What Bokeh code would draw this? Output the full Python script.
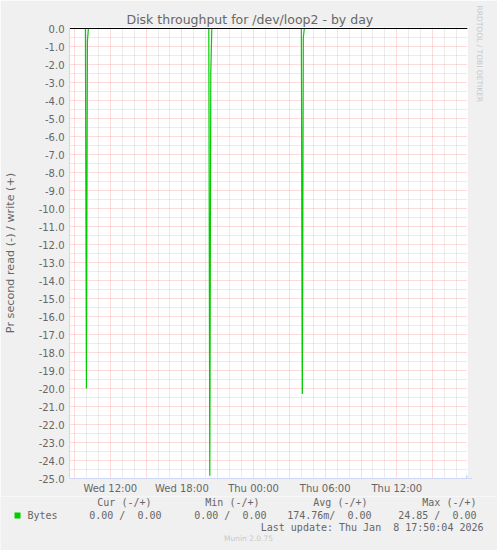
import pandas as pd
from bokeh.plotting import figure
from bokeh.layouts import column, row
from bokeh.models import (Range1d, FixedTicker, NumeralTickFormatter, DatetimeTickFormatter,
                          Title, Arrow, NormalHead)
from bokeh.core.properties import value
from bokeh.embed import file_html
from bokeh.resources import INLINE

title_text = "Disk throughput for /dev/loop2 - by day"
y_label_text = "Pr second read (-) / write (+)"
side_text = "RRDTOOL / TOBI OETIKER"
footer_text = "Munin 2.0.75"
last_update = "Last update: Thu Jan  8 17:50:04 2026"

# read bytes/s (drawn negative), only the samples where the value changes
read_times = ["2026-01-07 08:35", "2026-01-07 09:55", "2026-01-07 10:00", "2026-01-07 10:05",
              "2026-01-07 10:10", "2026-01-07 20:15", "2026-01-07 20:20", "2026-01-07 20:25",
              "2026-01-07 20:30", "2026-01-08 04:00", "2026-01-08 04:05", "2026-01-08 04:10",
              "2026-01-08 04:15", "2026-01-08 17:55"]
read_values = [0.0, 0.0, -20.0, -0.7, 0.0, 0.0, -24.85, -2.5, 0.0, 0.0, -20.3, -0.5, 0.0, 0.0]

x_start = "2026-01-07 08:35"
x_end = "2026-01-08 17:55"
x_tick_times = ["2026-01-07 12:00", "2026-01-07 18:00", "2026-01-08 00:00",
                "2026-01-08 06:00", "2026-01-08 12:00"]
y_ticks = [float(v) for v in range(0, -26, -1)]

legend_heads = ["Cur (-/+)", "Min (-/+)", "Avg (-/+)", "Max (-/+)"]
legend_vals = ["0.00 /  0.00", "0.00 /  0.00", "174.76m/  0.00", "24.85 /  0.00"]
legend_name = "Bytes"

TEXT = "#666666"
AXIS = "#CFD6F8"
GREEN = "#00CC00"
BACK = "#F0F0F0"


def ms(s):
    return pd.Timestamp(s).value / 1e6


def nb(s):
    return s.replace(" ", "\u00a0")


W = 497
H_MAIN = 496
H_LEG = 550 - H_MAIN

p = figure(width=W, height=H_MAIN, x_axis_type="datetime", output_backend="svg",
           toolbar_location=None, x_range=Range1d(ms(x_start), ms(x_end)),
           y_range=Range1d(-25.0, 0.0556),
           min_border_left=67, min_border_right=30, min_border_top=27, min_border_bottom=18)
p.background_fill_color = "white"
p.border_fill_color = BACK
p.outline_line_color = None

p.title.text = title_text
p.title.align = "left"
p.title.offset = 57
p.title.standoff = 2
p.title.text_font = "DejaVu Sans"
p.title.text_font_size = "12.5px"
p.title.text_font_style = "normal"
p.title.text_color = TEXT

p.add_layout(Title(text=side_text, align="left", offset=-22, standoff=14,
                   text_font="DejaVu Sans", text_font_size="7.5px", text_font_style="normal",
                   text_color="#C8C8C8"), "right")

# grid: gray dotted every hour / 0.5, red dotted every 3 hours / 1.0
major_x = [ms(t) for t in pd.date_range("2026-01-07 09:00", "2026-01-08 15:00", freq="3h")]
minor_x = [ms(t) for t in pd.date_range("2026-01-07 09:00", "2026-01-08 17:00", freq="1h")]
minor_x = [t for t in minor_x if t not in major_x]
minor_y = [v - 0.5 for v in y_ticks[:-1]]

p.xgrid[0].ticker = FixedTicker(ticks=major_x, minor_ticks=minor_x)
p.ygrid[0].ticker = FixedTicker(ticks=y_ticks, minor_ticks=minor_y)
for g in (p.xgrid, p.ygrid):
    g.grid_line_color = "#FF0000"
    g.grid_line_alpha = 0.28
    g.grid_line_dash = "1 1"
    g.minor_grid_line_color = "#808080"
    g.minor_grid_line_alpha = 0.3
    g.minor_grid_line_dash = "1 1"

p.xaxis.ticker = FixedTicker(ticks=[ms(t) for t in x_tick_times])
fmt = "%a %H:%M"
p.xaxis.formatter = DatetimeTickFormatter(hours=fmt, hourmin=fmt, days=fmt, minutes=fmt,
                                          minsec=fmt, months=fmt, years=fmt)
p.yaxis.ticker = FixedTicker(ticks=y_ticks)
p.yaxis.formatter = NumeralTickFormatter(format="0.0")
for ax in (p.xaxis, p.yaxis):
    ax.axis_line_color = AXIS
    ax.major_tick_line_color = None
    ax.minor_tick_line_color = None
    ax.major_tick_out = 0
    ax.major_tick_in = 0
    ax.major_label_text_font = "DejaVu Sans"
    ax.major_label_text_font_size = "10px"
    ax.major_label_text_color = TEXT
p.xaxis.major_label_standoff = 4
p.yaxis.major_label_standoff = 5
p.yaxis.axis_label = y_label_text
p.yaxis.axis_label_text_font = "DejaVu Sans"
p.yaxis.axis_label_text_font_size = "11.2px"
p.yaxis.axis_label_text_font_style = "normal"
p.yaxis.axis_label_text_color = TEXT
p.yaxis.axis_label_standoff = 19

p.line([ms(t) for t in read_times], read_values, line_color=GREEN, line_width=1.2)
# zero line
p.line([ms(x_start), ms(x_end)], [0, 0], line_color="black", line_width=1)

# axis arrow on the time axis
p.add_layout(Arrow(x_start=ms(x_end), y_start=-25.0, x_end=ms(x_end) + 25 * 60000, y_end=-25.0,
                   line_color=AXIS, end=NormalHead(size=6, fill_color=AXIS, line_color=AXIS)))

# legend strip under the graph, laid out in pixels (y grows downwards)
lg = figure(width=W, height=H_LEG, output_backend="svg", toolbar_location=None,
            x_range=Range1d(0, W), y_range=Range1d(H_LEG, 0),
            min_border_left=0, min_border_right=0, min_border_top=0, min_border_bottom=0,
            outline_line_color=None)
lg.axis.visible = False
lg.grid.visible = False
lg.background_fill_color = BACK
lg.border_fill_color = BACK

y0 = H_MAIN
mono = value("DejaVu Sans Mono")
lg.text(x=[151, 259, 367, 476], y=[502 - y0] * 4, text=[nb(s) for s in legend_heads],
        text_font=mono, text_font_size="10px", text_color=TEXT,
        text_align="right", text_baseline="middle")
lg.text(x=[161, 266, 371, 476], y=[514.5 - y0] * 4, text=[nb(s) for s in legend_vals],
        text_font=mono, text_font_size="10px", text_color=TEXT,
        text_align="right", text_baseline="middle")
lg.scatter(x=[17], y=[515 - y0], marker="square", size=6, fill_color=GREEN, line_color=None)
lg.text(x=[27], y=[514.5 - y0], text=[legend_name], text_font=mono, text_font_size="10px",
        text_color=TEXT, text_align="left", text_baseline="middle")
lg.text(x=[483], y=[527 - y0], text=[nb(last_update)], text_font=mono, text_font_size="10px",
        text_color=TEXT, text_align="right", text_baseline="middle")
lg.text(x=[248], y=[538 - y0], text=[footer_text], text_font=value("DejaVu Sans"),
        text_font_size="7.5px", text_color="#C8C8C8", text_align="center",
        text_baseline="middle")

page = column(p, row(lg), spacing=0)
open("out.html", "w").write(file_html(page, INLINE))
